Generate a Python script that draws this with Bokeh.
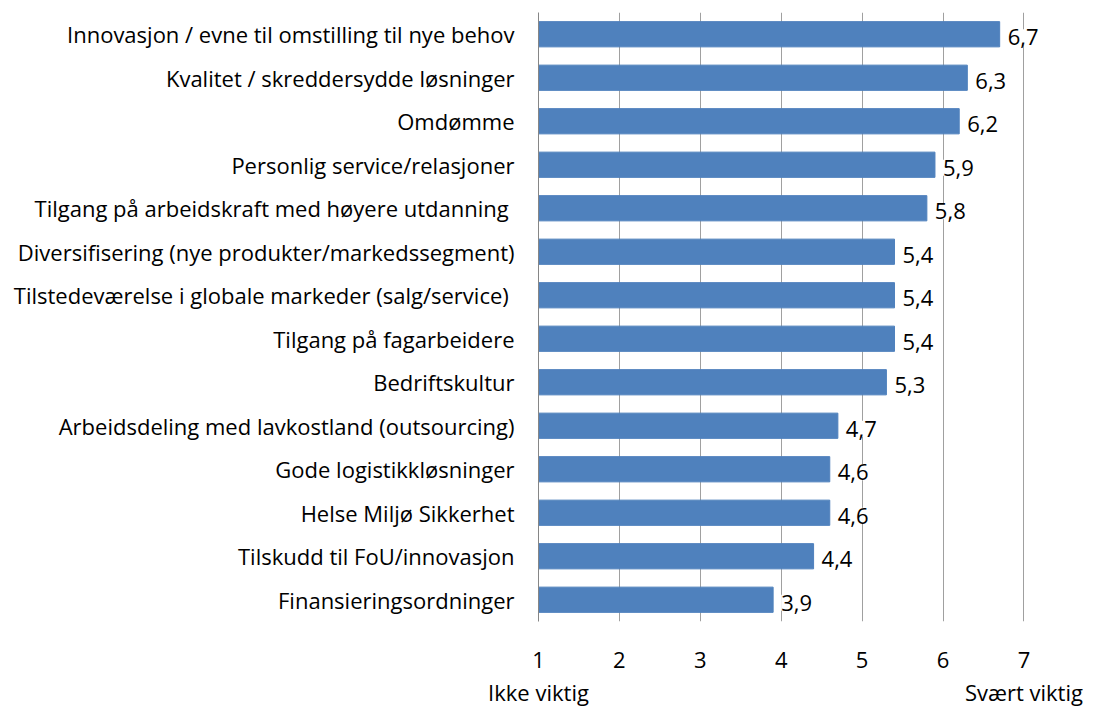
from bokeh.plotting import figure
from bokeh.models import ColumnDataSource, LabelSet, FixedTicker, Range1d, LinearAxis
from bokeh.core.properties import value
from bokeh.embed import file_html
from bokeh.resources import INLINE

categories = [
    "Innovasjon / evne til omstilling til nye behov",
    "Kvalitet / skreddersydde løsninger",
    "Omdømme",
    "Personlig service/relasjoner",
    "Tilgang på arbeidskraft  med høyere utdanning",
    "Diversifisering (nye produkter/markedssegment)",
    "Tilstedeværelse i globale markeder  (salg/service)",
    "Tilgang på fagarbeidere",
    "Bedriftskultur",
    "Arbeidsdeling med lavkostland (outsourcing)",
    "Gode logistikkløsninger",
    "Helse Miljø Sikkerhet",
    "Tilskudd til FoU/innovasjon",
    "Finansieringsordninger",
]
values = [6.7, 6.3, 6.2, 5.9, 5.8, 5.4, 5.4, 5.4, 5.3, 4.7, 4.6, 4.6, 4.4, 3.9]
ticks = [1, 2, 3, 4, 5, 6, 7]
end_labels = ["Ikke viktig", "Svært viktig"]
end_positions = [1, 7]

FONT = "Open Sans"
FS = "22px"
labels = [f"{v:.1f}".replace(".", ",") for v in values]
src = ColumnDataSource(dict(cat=categories, val=values, lbl=labels))

p = figure(
    y_range=categories[::-1],
    x_range=Range1d(1, 7.6),
    width=1094, height=709,
    output_backend="svg", toolbar_location=None,
    min_border_left=538, min_border_right=22,
    min_border_top=12, min_border_bottom=81,
)
p.outline_line_color = None
p.background_fill_color = "white"

p.hbar(y="cat", left=ticks[0], right="val", height=0.58, color="#4F81BD", source=src)

p.xgrid.grid_line_color = "#A0A0A0"
p.ygrid.grid_line_color = None

p.xaxis.ticker = FixedTicker(ticks=ticks)
p.xaxis.axis_line_color = None
p.xaxis.major_tick_line_color = None
p.xaxis.minor_tick_line_color = None
p.xaxis.major_label_standoff = 24
p.xaxis.major_label_text_font = FONT
p.xaxis.major_label_text_font_size = FS
p.xaxis.major_label_text_color = "black"

ax2 = LinearAxis(ticker=FixedTicker(ticks=end_positions),
                 major_label_overrides={pos: t for pos, t in zip(end_positions, end_labels)})
ax2.axis_line_color = None
ax2.major_tick_line_color = None
ax2.minor_tick_line_color = None
ax2.major_label_standoff = 0
ax2.major_label_text_font = FONT
ax2.major_label_text_font_size = FS
ax2.major_label_text_color = "black"
p.add_layout(ax2, "below")

p.yaxis.axis_line_color = "#868686"
p.yaxis.major_tick_line_color = None
p.yaxis.minor_tick_line_color = None
p.yaxis.major_label_standoff = 18
p.yaxis.major_label_text_font = FONT
p.yaxis.major_label_text_font_size = FS
p.yaxis.major_label_text_color = "black"

ls = LabelSet(x="val", y="cat", text="lbl", source=src,
              x_offset=8, y_offset=-3, text_baseline="middle",
              text_font=value(FONT), text_font_size=value(FS), text_color="black",
              background_fill_color="white")
p.add_layout(ls)

open("out.html", "w").write(file_html(p, INLINE))
